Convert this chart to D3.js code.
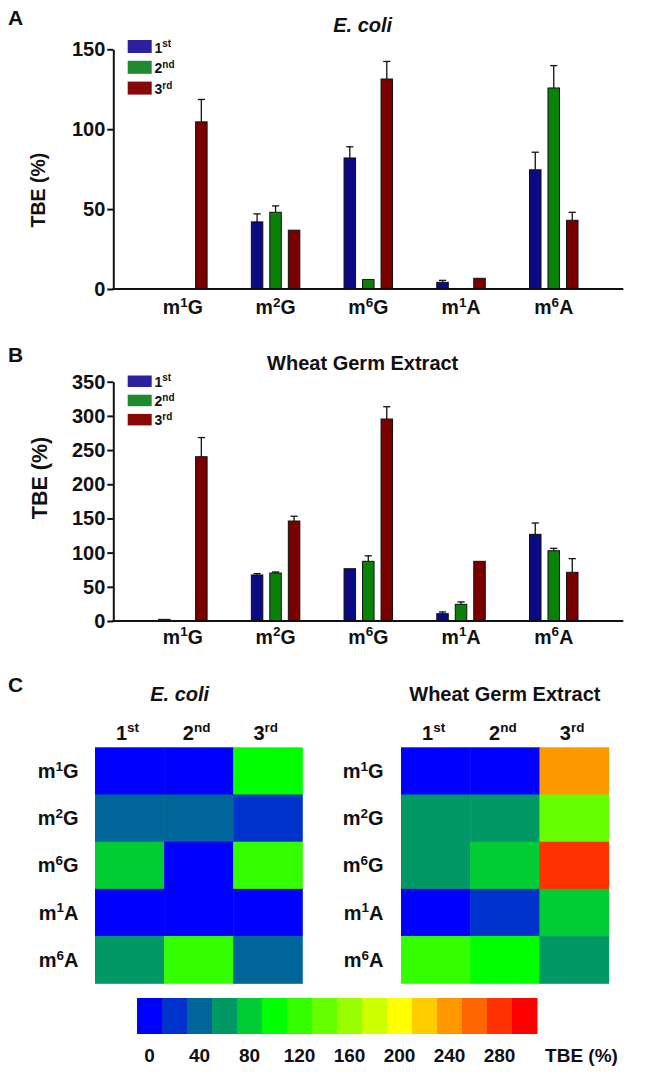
<!DOCTYPE html>
<html><head><meta charset="utf-8">
<script src="https://cdn.jsdelivr.net/npm/d3@7"></script>
<style>
html,body{margin:0;padding:0;background:#fff;}
text{font-family:"Liberation Sans",Arial,sans-serif;font-weight:bold;fill:#111;}
</style></head>
<body><svg id="c" width="661" height="1072"></svg>
<script>
// ---- data ----
const categories = ["m1G","m2G","m6G","m1A","m6A"];
const rounds = ["1st","2nd","3rd"];

const ecoliRound1 = [0, 42, 82, 4.2, 74.6];
const ecoliRound2 = [0, 48, 5.9, 0, 125.8];
const ecoliRound3 = [104.6, 36.8, 131.4, 6.7, 43];
const ecoliErr1 = [0, 5, 7, 1.2, 11];
const ecoliErr2 = [0, 4, 0, 0, 14];
const ecoliErr3 = [14, 0, 11, 0, 5];

const wheatRound1 = [2.4, 67.3, 76.5, 10.7, 126.8];
const wheatRound2 = [0, 70.2, 87.3, 24.4, 102.8];
const wheatRound3 = [240.3, 146.2, 295.4, 87.3, 71.2];
const wheatErr1 = [0, 2, 0, 2.5, 16.5];
const wheatErr2 = [0, 1.5, 8, 3.5, 3.5];
const wheatErr3 = [28, 7, 18, 0, 20];

const ecoliTicks = [0, 50, 100, 150];
const wheatTicks = [0, 50, 100, 150, 200, 250, 300, 350];
const colorbarTicks = [0, 40, 80, 120, 160, 200, 240, 280];
const binEdges = d3.range(20, 320, 20);
const binColors = ["#0000ff","#0033cc","#006699","#009966","#00cc33","#00ff00","#33ff00","#66ff00",
                   "#99ff00","#ccff00","#ffff00","#ffcc00","#ff9900","#ff6600","#ff3300","#ff0000"];
const barColors = ["#0a0a82","#0a820a","#7a0000"];
const legendColors = ["#2e1f9e","#1f8a30","#880808"];

// ---- helpers ----
const svg = d3.select("#c");
function supText(g, str, size, supSize) {
  let base, sup, tail = "";
  if (/^m\d/.test(str)) { base = "m"; sup = str[1]; tail = str.slice(2); }
  else { base = str[0]; sup = str.slice(1); }
  g.append("tspan").text(base);
  g.append("tspan").attr("font-size", supSize).attr("dy", -size*0.36).text(sup);
  if (tail) g.append("tspan").attr("dy", size*0.36).text(tail);
  return g;
}

function barPanel(cfg) {
  const g = svg.append("g");
  const y = d3.scaleLinear().domain([0, cfg.max]).range([cfg.y0, cfg.y1]);
  const x = d3.scalePoint().domain(categories).range([113.3, 623.3]).padding(0.75);
  const off = d3.scalePoint().domain(rounds).range([-18.5, 18.5]);
  const bw = 11.5;
  const series = [cfg.r1, cfg.r2, cfg.r3];
  const errs = [cfg.e1, cfg.e2, cfg.e3];
  series.forEach((vals, si) => {
    categories.forEach((c, ci) => {
      const v = vals[ci];
      if (v <= 0) return;
      const cx = x(c) + off(rounds[si]);
      const e = errs[si][ci];
      if (e > 0) {
        g.append("line").attr("x1", cx).attr("x2", cx).attr("y1", y(v)).attr("y2", y(v + e))
          .attr("stroke", "#111").attr("stroke-width", 1.3);
        g.append("line").attr("x1", cx - 3.6).attr("x2", cx + 3.6).attr("y1", y(v + e)).attr("y2", y(v + e))
          .attr("stroke", "#111").attr("stroke-width", 1.3);
      }
      g.append("rect").attr("x", cx - bw/2).attr("y", y(v)).attr("width", bw)
        .attr("height", y(0) - y(v)).attr("fill", barColors[si])
        .attr("stroke", "#111").attr("stroke-width", 1);
    });
  });
  const ya = g.append("g").attr("transform", "translate(113.3,0)")
    .call(d3.axisLeft(y).tickValues(cfg.ticks).tickSize(6).tickSizeOuter(0).tickPadding(2));
  ya.select(".domain").attr("stroke", "#111").attr("stroke-width", 2);
  ya.selectAll(".tick line").attr("stroke", "#111").attr("stroke-width", 2);
  ya.selectAll(".tick text").attr("font-size", cfg.tickSize).attr("fill", "#111")
    .attr("font-family", '"Liberation Sans",Arial,sans-serif').attr("font-weight", "bold");
  g.append("line").attr("x1", 112.3).attr("x2", 623.3).attr("y1", y(0)).attr("y2", y(0))
    .attr("stroke", "#111").attr("stroke-width", 2);
  categories.forEach(c => {
    supText(g.append("text").attr("x", x(c)).attr("y", cfg.labelY).attr("text-anchor", "middle")
      .attr("font-size", 19.5), c, 19.5, 13.5);
  });
  g.append("text").attr("transform", `translate(${cfg.ylabX},${cfg.ylabY}) rotate(-90)`)
    .attr("text-anchor", "middle").attr("dominant-baseline", "central")
    .attr("font-size", cfg.ylabSize).text("TBE (%)");
  g.append("text").attr("x", 362.7).attr("y", cfg.titleY).attr("text-anchor", "middle")
    .attr("font-size", 20).attr("font-style", cfg.italic ? "italic" : "normal").text(cfg.title);
  g.append("text").attr("x", 8).attr("y", cfg.letterY).attr("font-size", 21).text(cfg.letter);
  rounds.forEach((r, i) => {
    const ly = cfg.legY + i * cfg.legStep;
    g.append("rect").attr("x", 127.7).attr("y", ly).attr("width", 24).attr("height", cfg.legH)
      .attr("fill", legendColors[i]);
    supText(g.append("text").attr("x", 154.5).attr("y", ly + cfg.legH - 0.5).attr("font-size", 14), r, 14, 10);
  });
}

barPanel({max:150, y0:289, y1:49.3, ticks:ecoliTicks, tickSize:20,
  r1:ecoliRound1, r2:ecoliRound2, r3:ecoliRound3, e1:ecoliErr1, e2:ecoliErr2, e3:ecoliErr3,
  labelY:314, ylabX:38, ylabY:190, ylabSize:19.5, title:"E. coli", italic:true, titleY:31.5,
  letter:"A", letterY:25, legY:40, legStep:20.8, legH:13});

barPanel({max:350, y0:621, y1:381.7, ticks:wheatTicks, tickSize:20,
  r1:wheatRound1, r2:wheatRound2, r3:wheatRound3, e1:wheatErr1, e2:wheatErr2, e3:wheatErr3,
  labelY:643.5, ylabX:40, ylabY:478, ylabSize:21.5, title:"Wheat Germ Extract", italic:false, titleY:370,
  letter:"B", letterY:361.5, legY:375.5, legStep:19.2, legH:11.5});

// ---- heatmaps ----
const color = d3.scaleThreshold().domain(binEdges).range(binColors);
svg.append("text").attr("x", 8).attr("y", 691.5).attr("font-size", 21).text("C");

function heatmap(x0, x1, rows, title, italic, labelRight) {
  const g = svg.append("g");
  const x = d3.scaleBand().domain(rounds).range([x0, x1]);
  const y = d3.scaleBand().domain(categories).range([747.3, 983.3]);
  categories.forEach((c, ci) => {
    rounds.forEach((r, ri) => {
      g.append("rect").attr("x", x(r)).attr("y", y(c)).attr("width", x.bandwidth() + 0.5)
        .attr("height", y.bandwidth() + 0.5).attr("fill", color(rows[ri][ci]));
    });
    supText(g.append("text").attr("x", labelRight).attr("y", y(c) + y.bandwidth()/2 + 7)
      .attr("text-anchor", "end").attr("font-size", 20), c, 20, 13.5);
  });
  rounds.forEach(r => {
    supText(g.append("text").attr("x", x(r) + x.bandwidth()/2 - 2).attr("y", 739.5)
      .attr("text-anchor", "middle").attr("font-size", 20), r, 20, 13.5);
  });
  g.append("text").attr("x", (x0 + x1)/2 - (italic ? 19 : 0)).attr("y", 700.5).attr("text-anchor", "middle")
    .attr("font-size", 20).attr("font-style", italic ? "italic" : "normal").text(title);
}
heatmap(95, 302.3, [ecoliRound1, ecoliRound2, ecoliRound3], "E. coli", true, 78.5);
heatmap(401, 608.7, [wheatRound1, wheatRound2, wheatRound3], "Wheat Germ Extract", false, 383.5);

// ---- colour bar ----
const cbx = d3.scaleLinear().domain([0, 320]).range([137, 537]);
const cb = svg.append("g");
binColors.forEach((c, i) => {
  cb.append("rect").attr("x", cbx(i*20)).attr("y", 998).attr("width", cbx(20) - cbx(0) + 0.5)
    .attr("height", 36).attr("fill", c);
});
colorbarTicks.forEach(v => {
  cb.append("text").attr("x", cbx(v + 10)).attr("y", 1061.5).attr("text-anchor", "middle")
    .attr("font-size", 19).text(v);
});
cb.append("text").attr("x", 581.5).attr("y", 1061.5).attr("text-anchor", "middle")
  .attr("font-size", 19).text("TBE (%)");
</script>
</body></html>
